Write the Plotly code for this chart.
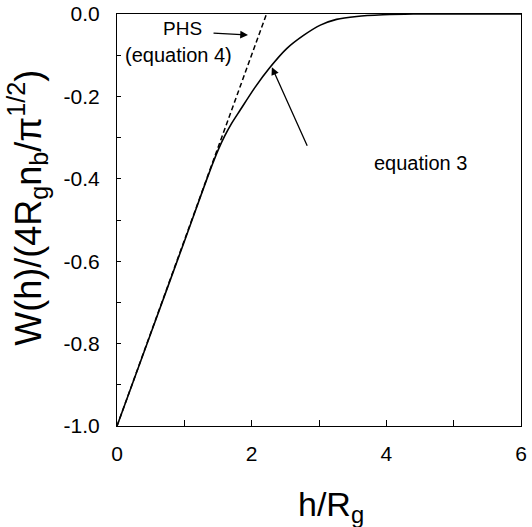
import plotly.graph_objects as go

# Equation 3 curve
h_eq3 = [0.0, 0.5, 1.0, 1.3, 1.4, 1.5, 1.6, 1.7, 1.83, 2.05, 2.27, 2.52, 2.77, 3.02, 3.26, 3.56,
         3.95, 4.4, 5.0, 6.0]
w_eq3 = [-1.0, -0.776, -0.552, -0.416, -0.372, -0.331, -0.296, -0.266, -0.233, -0.178, -0.130,
         -0.084, -0.052, -0.027, -0.013, -0.006, -0.002, 0.0, 0.0, 0.0]

# PHS (equation 4), straight line
h_phs = [0.0, 2.22]
w_phs = [-1.0, 0.0]

x_tickvals = [0, 2, 4, 6]
y_tickvals = [0.0, -0.2, -0.4, -0.6, -0.8, -1.0]
y_ticktext = ["0.0", "-0.2", "-0.4", "-0.6", "-0.8", "-1.0"]

FONT = "Liberation Sans, Arial, sans-serif"

fig = go.Figure()
fig.add_trace(go.Scatter(x=h_phs, y=w_phs, mode="lines",
                         line=dict(color="black", width=1.5, dash="5px,3px"),
                         showlegend=False, hoverinfo="skip"))
fig.add_trace(go.Scatter(x=h_eq3, y=w_eq3, mode="lines",
                         line=dict(color="black", width=1.6, shape="spline", smoothing=0.8),
                         showlegend=False, hoverinfo="skip"))

fig.update_layout(
    width=532, height=527,
    margin=dict(l=117, r=11, t=14, b=101),
    paper_bgcolor="white", plot_bgcolor="white",
    font=dict(family=FONT, color="black", size=21),
    xaxis=dict(range=[0, 6], tickvals=x_tickvals, ticks="inside", ticklen=6, tickwidth=1,
               tickcolor="black", showline=True, linecolor="black", linewidth=1, mirror=True,
               showgrid=False, zeroline=False, tickfont=dict(size=21),
               ticklabelstandoff=9, automargin=False,
               minor=dict(dtick=1, ticks="inside", ticklen=6, tickcolor="black", showgrid=False)),
    yaxis=dict(range=[-1.0, 0.0], tickvals=y_tickvals, ticktext=y_ticktext, ticks="inside",
               ticklen=4, tickwidth=1, tickcolor="black", showline=True, linecolor="black",
               linewidth=1, mirror=True, showgrid=False, zeroline=False, tickfont=dict(size=21),
               ticklabelstandoff=12, automargin=False,
               minor=dict(dtick=0.1, ticks="inside", ticklen=4, tickcolor="black", showgrid=False)),
    annotations=[
        dict(text="h/R<sub>g</sub>", xref="paper", yref="paper", x=0.53, y=-0.195,
             showarrow=False, font=dict(size=34), xanchor="center", yanchor="middle"),
        dict(text="W(h)/(4R<sub>g</sub>n<sub>b</sub>/π<sup>1/2</sup>)", xref="paper", yref="paper",
             x=-0.22, y=0.53, textangle=-90, showarrow=False, font=dict(size=36),
             xanchor="center", yanchor="middle"),
        dict(text="PHS", xref="paper", yref="paper", x=(182 - 117) / 404, y=(426 - 29) / 412,
             showarrow=False, font=dict(size=19), xanchor="center", yanchor="middle"),
        dict(text="(equation 4)", xref="paper", yref="paper", x=(178 - 117) / 404, y=(426 - 55) / 412,
             showarrow=False, font=dict(size=20), xanchor="center", yanchor="middle"),
        dict(text="equation 3", xref="paper", yref="paper", x=(420 - 117) / 404, y=(426 - 163) / 412,
             showarrow=False, font=dict(size=20), xanchor="center", yanchor="middle"),
        dict(text="", x=1.946, y=-0.051, xref="x", yref="y", showarrow=True, ax=-36, ay=-2,
             arrowhead=2, arrowsize=1.2, arrowwidth=1.3, arrowcolor="black"),
        dict(text="", x=2.30, y=-0.129, xref="x", yref="y", showarrow=True, ax=36, ay=80,
             arrowhead=2, arrowsize=1.2, arrowwidth=1.3, arrowcolor="black"),
    ],
)

fig.write_html("out.html", config={"displayModeBar": False},
               post_script="document.body.style.margin='0';document.body.style.padding='0';")
